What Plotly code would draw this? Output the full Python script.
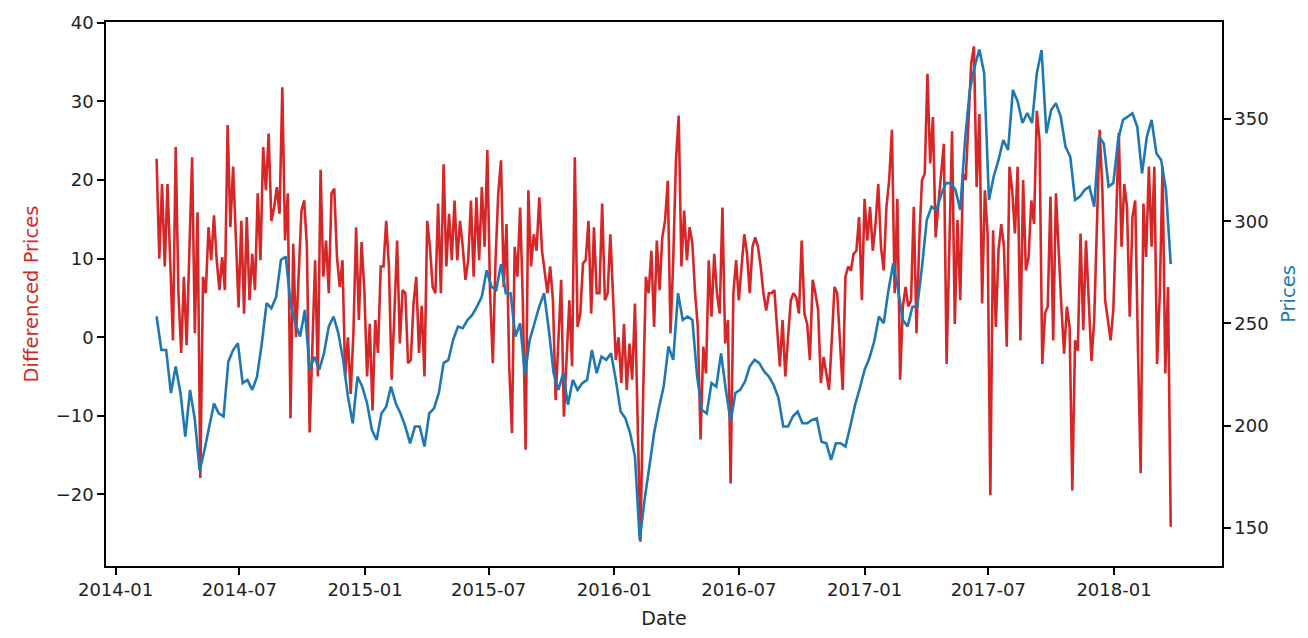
import pandas as pd
import plotly.graph_objects as go

# Differenced prices, one reading every 4 days from 2014-03-02
diff_start = "2014-03-02"
diff_prices = [
    22.7, 10, 19.5, 9, 19.5, 8, -0.4, 24.2, 5.6, -2, 7.7, -1, 9.8, 22.9, 0.5, 15.9,
    -17.9, 7.7, 5.6, 14, 9.8, 15.5, 9.8, 6, 10.2, 6, 27, 14, 21.7, 12.3, 3.8, 14.8,
    3.0, 15.3, 4.7, 10.6, 6, 18.3, 9.8, 24.2, 18.7, 25.9, 14.8, 16.5, 19.1, 15.7, 31.8, 12.3,
    18.3, -10.3, 11.9, 0.0, 7.7, 16.1, 17.4, 11.5, -12.1, -1.2, 9.8, -5, 21.3, 7.7, 12.3, 5.6,
    18.3, 18.9, 10.2, 6.4, 9.8, -5, 0, -7.2, 0.5, 14, 2.2, 12.1, 6, -5, 1.7, -9.3,
    2.2, -2, 9, 9, 14.8, 9, -5.4, 3, 12.3, -0.8, 6, 5.6, -3.3, -2.9, 4.3,
    7.7, -2, 4, -5, 14.8, 11.5, 6.4, 5.6, 17, 5.6, 22, 9, 15.7, 9.8, 17.4, 9.8,
    14.8, 11.5, 7.3, 9.8, 17.4, 7.7, 17.8, 9.8, 19.1, 11.5, 23.8, 5.6, -3.3, 9.8, 18.3, 22.5,
    6.4, 14.4, -3.7, -12.2, 11.5, 7.7, 16.5, 4.3, -14.3, 18.7, 9, 13.1, 11, 17.8, 11, 8.5,
    5.6, 9, 4.7, -8, -1.2, 7.3, -10.1, -2.9, 4.7, -3.7, 22.9, 1.3, 3, 9.4, 9.8, 14.8,
    3, 14, 5.6, 5.6, 17, 4.7, 5.6, 13.1, 5.6, -2.9, 0, -5.8, 1.7, -6.7, -0.8, -5.4,
    4.3, -11.4, -26, -7.2, 7.7, 5.6, 11, 1.3, 12.3, 6, 12.7, 14.8, 19.9, 0.5, 9.8,
    22.5, 28.2, 9, 16.1, 9.8, 14, 11.9, 5.6, 1.3, -13, -1.2, -4.6, 9.8, 2.6, 10.6, 5.6,
    3, 16.5, -0.8, 2.2, -18.6, 5.6, 9.8, 4.7, 9, 13.1, 10.6, 5.6, 11.5, 12.7, 11.5, 9,
    5.6, 3.4, 5.6, 5.6, 6, 0.9, -3.7, 2.2, -5, 0, 4.7, 5.6, 5.1, 3, 12.3, 3,
    1.7, -2.9, 7.3, 5.6, 3.5, -5.8, -2.5, -4.6, -6.7, -0.4, 6.4, 5.6, -0.4, -6.7, 7.7, 9,
    8.5, 10.6, 11, 15.3, 4.7, 17.6, 12.3, 16.6, 11, 14.4, 19.5, 11.5, 8.5, 16.6, 20, 26.4,
    5.6, 17.6, -5.4, 3.9, 6.4, 3.9, 4.7, 16.6, 0.5, 12.3, 20, 20.8, 33.5, 22.1, 28,
    12.7, 16.9, 20.8, 24.6, -3.4, 12.3, 26.2, 1.7, 14.9, 4.7, 20.8, 20, 27.2, 34.8, 37, 19.1,
    28.4, 4.3, 18.7, 13.2, -20.1, 13.6, 1.3, 11.1, 14.4, 11.5, -1.2, 21.7, 18.7, 13.2, 21.7, -0.4,
    20, 8.5, 10.2, 17.4, 14.4, 28.8, 25, -3.4, 3, 3.9, 17.9, -0.4, 18.3, 10.2, 3.9, -2.1,
    3.9, 1.3, -19.5, -0.4, -1.7, 13.2, 0.9, 12.3, 4.7, -3, 2.2, 14.9, 26.4, 18.7, 4.7, 2.2,
    -0.4, 3.5, 14.9, 26, 11.5, 19.5, 16.6, 2.6, 15.3, 17.4, -1.3, -17.3, 17, 10.2, 21.7, 11.5,
    21.7, -3.4, 5.6, 21.7, -4.6, 6.4, -24.1,
]

# Prices, one reading per week from 2014-03-02
price_start = "2014-03-02"
prices = [
    253.5, 237, 237, 216, 229, 216, 194.7, 217.5, 203, 178, 188, 199.6, 210.8, 206,
    204.5, 231.4, 237, 240.3, 220.8, 222.4, 217.5, 224, 240.3, 259.9, 257.4, 263.1, 281, 282.7,
    259.9, 250, 243.6, 256.6, 227.3, 233.8, 227.3, 235.4, 248.5, 253.4, 245.2, 232.2, 214.3, 201.2,
    224, 219.1, 211, 198, 193, 206, 209.3, 219.1, 211, 206, 199.6, 191.4, 199.6,
    199.6, 189.8, 206, 208.5, 216, 230.6, 232.2, 242, 248.5, 247.7, 251.7, 254.2, 258.3, 263.2,
    276, 268, 266.4, 279, 264.8, 264.8, 243.6, 250.1, 225, 242, 250.1, 258.3, 264.8,
    246.9, 225.7, 217.5, 225.7, 210.2, 222.4, 217.5, 220.8, 222.4, 237, 225.7, 233.8, 232.2, 235.4,
    222.4, 206.9, 203.6, 196.3, 184.9, 144.1, 163.6, 179.9, 196.3, 208.5, 219.1, 238.7, 232.2,
    264.8, 251.7, 253.4, 251.7, 224, 207.7, 206, 220.8, 219.1, 235.4, 217.5, 202, 216, 217.5,
    221.6, 229, 232.2, 230.6, 226.5, 224, 219.9, 213.5, 199.6, 199.6, 204.5, 206.9, 201.2,
    201.2, 202.8, 203.6, 192.2, 191.4, 183.3, 191.4, 191.4, 189.8, 199.6, 210.1, 218.3, 227.3, 233,
    241.1, 253.4, 250.1, 266.4, 279.4, 266.4, 251.7, 248.5, 258.2, 258.2, 277.7, 300.6, 307.1,
    305.5, 312.9, 318.6, 318.6, 315.3, 305.5, 339.7, 364.2, 375.6, 384, 372.3, 310.4, 322, 330,
    339.7, 334.8, 364.2, 358.5, 348, 352.9, 348, 372.3, 383.7, 343, 354.4, 357.7, 351.1,
    336.4, 331.5, 310.4, 312, 315.3, 316.9, 307.1, 341.3, 338, 316.9, 318.6, 339.7,
    349.5, 351.1, 352.8, 346.2, 323.4, 341.3, 349.5, 333.2, 329.9, 315.3, 279,
]

diff_dates = pd.date_range(diff_start, periods=len(diff_prices), freq="4D")
price_dates = pd.date_range(price_start, periods=len(prices), freq="7D")

RED = "#d62728"
BLUE = "#1f77b4"
FONT = "DejaVu Sans"

fig = go.Figure()

fig.add_trace(go.Scatter(
    x=diff_dates, y=diff_prices, mode="lines",
    line=dict(color=RED, width=2.6), name="Differenced Prices",
))
fig.add_trace(go.Scatter(
    x=price_dates, y=prices, mode="lines", yaxis="y2",
    line=dict(color=BLUE, width=2.6), name="Prices",
))

axis_common = dict(
    showgrid=False, zeroline=False, showline=True, linecolor="black",
    linewidth=1.5, ticks="outside", ticklen=7, tickwidth=1.5,
    tickcolor="black", tickfont=dict(family=FONT, size=18, color="#222"),
    automargin=False,
)

# page body adds an 8px offset, so the figure is a bit smaller than the window
fig.update_layout(
    width=1300, height=630,
    margin=dict(l=98, r=86, t=14, b=72),
    plot_bgcolor="white", paper_bgcolor="white",
    showlegend=False,
    font=dict(family=FONT, size=18, color="#222"),
    xaxis=dict(
        axis_common, mirror=True, type="date",
        range=["2013-12-18", "2018-06-08"],
        tick0="2014-01-01", dtick="M6", tickformat="%Y-%m",
        title=dict(text="Date", standoff=12, font=dict(family=FONT, size=19, color="#222")),
    ),
    yaxis=dict(
        axis_common, range=[-29.1, 40.1], tick0=0, dtick=10,
        title=dict(text="Differenced Prices", standoff=12, font=dict(family=FONT, size=19.5, color=RED)),
    ),
    yaxis2=dict(
        axis_common, overlaying="y", side="right",
        range=[131.4, 397.4], tick0=0, dtick=50,
        title=dict(text="Prices", standoff=14, font=dict(family=FONT, size=19.5, color=BLUE)),
    ),
)

fig.write_html("out.html")
